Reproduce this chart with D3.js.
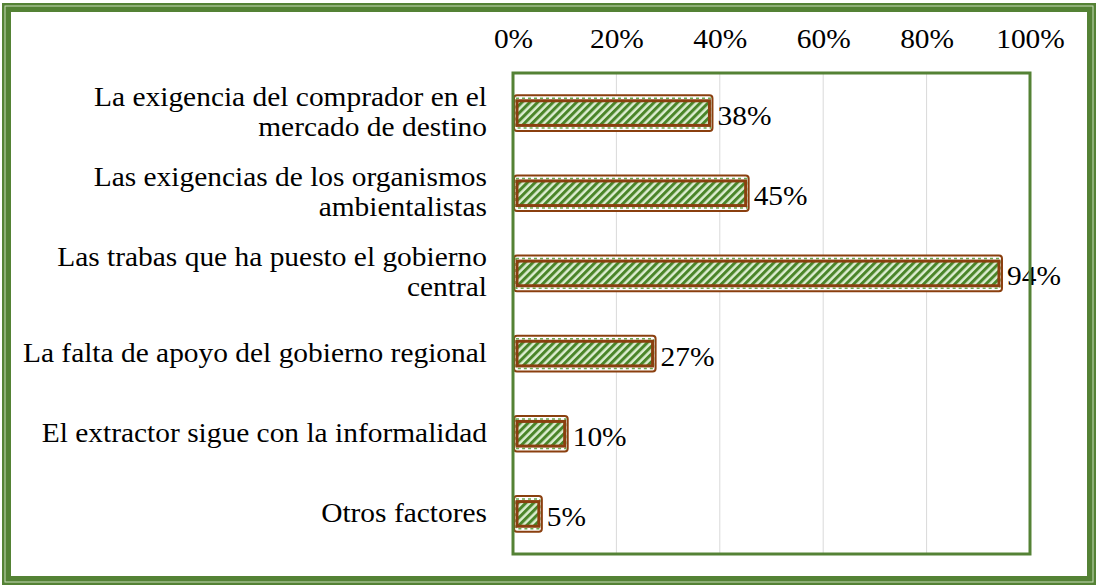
<!DOCTYPE html>
<html>
<head>
<meta charset="utf-8">
<script src="https://cdn.jsdelivr.net/npm/d3@7"></script>
<style>
  body { margin: 0; background: #fff; }
  svg { display: block; }
</style>
</head>
<body>
<div id="chart"></div>
<script>
// Data
const categories = [
    ["La exigencia del comprador en el", "mercado de destino"],
    ["Las exigencias de los organismos", "ambientalistas"],
    ["Las trabas que ha puesto el gobierno", "central"],
    ["La falta de apoyo del gobierno regional"],
    ["El extractor sigue con la informalidad"],
    ["Otros factores"]
];
const values = [0.38, 0.45, 0.94, 0.27, 0.10, 0.05];
const tickValues = [0, 0.2, 0.4, 0.6, 0.8, 1.0];

const W = 1096, H = 586;
const plot = { left: 513, right: 1030, top: 73, bottom: 554 };
const green = "#548235";
const brown = "#8a3f0f";
const font = "'Liberation Serif', 'Times New Roman', 'DejaVu Serif', serif";
const fontSize = "27px";
const stretch = "scale(1.09,1)"; // the reference text is a little wide

const svg = d3.select("#chart").append("svg")
    .attr("width", W)
    .attr("height", H);

// Hatch pattern for bars
const defs = svg.append("defs");
const pat = defs.append("pattern")
    .attr("id", "hatch")
    .attr("patternUnits", "userSpaceOnUse")
    .attr("width", 5.5)
    .attr("height", 5.5)
    .attr("patternTransform", "rotate(45)");
pat.append("rect").attr("width", 5.5).attr("height", 5.5).attr("fill", "#dcedd1");
pat.append("rect").attr("width", 3).attr("height", 5.5).attr("fill", "#4a8529");

// Outer frame (double line look)
svg.append("rect")
    .attr("x", 6.5).attr("y", 7.5)
    .attr("width", W - 11).attr("height", H - 13)
    .attr("fill", "none")
    .attr("stroke", green)
    .attr("stroke-width", 9);
svg.append("rect")
    .attr("x", 5).attr("y", 6)
    .attr("width", W - 8).attr("height", H - 10)
    .attr("fill", "none")
    .attr("stroke", "#c9dcbc")
    .attr("stroke-width", 1);

// Scales
const x = d3.scaleLinear()
    .domain([0, 1])
    .range([plot.left, plot.right]);

const y = d3.scaleBand()
    .domain(d3.range(categories.length))
    .range([plot.top, plot.bottom])
    .paddingInner(0.53)
    .paddingOuter(0.265);

const cy = i => y(i) + y.bandwidth() / 2;

// Gridlines
svg.append("g")
    .selectAll("line")
    .data(tickValues.slice(1, -1))
    .join("line")
    .attr("x1", d => x(d)).attr("x2", d => x(d))
    .attr("y1", plot.top).attr("y2", plot.bottom)
    .attr("stroke", "#d9d9d9")
    .attr("stroke-width", 1);

// Top axis labels
const xAxis = svg.append("g")
    .attr("transform", "translate(0,48)")
    .call(d3.axisTop(x).tickValues(tickValues).tickFormat(d3.format(".0%")).tickSize(0).tickPadding(0));
xAxis.select(".domain").remove();
xAxis.attr("font-family", null).attr("font-size", null);
xAxis.selectAll("text")
    .attr("dy", null)
    .attr("transform", stretch)
    .style("font-family", font)
    .style("font-size", fontSize)
    .attr("fill", "#000");

// Bars: outer thin brown line, dashed green/white gap, inner thick brown border, hatched fill
const bars = svg.append("g")
    .selectAll("g")
    .data(values)
    .join("g");

bars.append("rect")
    .attr("x", x(0) + 1)
    .attr("y", (d, i) => y(i) + 1)
    .attr("width", d => x(d) - x(0) + 2)
    .attr("height", y.bandwidth() - 2)
    .attr("rx", 3)
    .attr("fill", "#fff")
    .attr("stroke", brown)
    .attr("stroke-width", 2);

bars.append("rect")
    .attr("x", x(0) + 3)
    .attr("y", (d, i) => y(i) + 4)
    .attr("width", d => x(d) - x(0) - 2)
    .attr("height", y.bandwidth() - 8)
    .attr("fill", "none")
    .attr("stroke", "#6aa84f")
    .attr("stroke-width", 1.5)
    .attr("stroke-dasharray", "3,3");

bars.append("rect")
    .attr("x", x(0) + 4)
    .attr("y", (d, i) => y(i) + 6.5)
    .attr("width", d => x(d) - x(0) - 4)
    .attr("height", y.bandwidth() - 13)
    .attr("fill", "url(#hatch)")
    .attr("stroke", brown)
    .attr("stroke-width", 3);

// Value labels
bars.append("g")
    .attr("transform", (d, i) => `translate(${x(d) + 8},${cy(i) + 12}) ${stretch}`)
    .append("text")
    .style("font-family", font)
    .style("font-size", fontSize)
    .text(d => d3.format(".0%")(d));

// Plot frame
svg.append("rect")
    .attr("x", plot.left).attr("y", plot.top)
    .attr("width", plot.right - plot.left)
    .attr("height", plot.bottom - plot.top)
    .attr("fill", "none")
    .attr("stroke", green)
    .attr("stroke-width", 3);

// Category labels
const labels = svg.append("g")
    .selectAll("g")
    .data(categories)
    .join("g")
    .attr("transform", (d, i) => `translate(487,${cy(i) + 8}) ${stretch}`)
    .append("text")
    .attr("text-anchor", "end")
    .style("font-family", font)
    .style("font-size", fontSize);

labels.selectAll("tspan")
    .data(d => d.map((line, j) => ({ line, j, n: d.length })))
    .join("tspan")
    .attr("x", 0)
    .attr("y", d => (d.j - (d.n - 1) / 2) * 30)
    .text(d => d.line);
</script>
</body>
</html>
